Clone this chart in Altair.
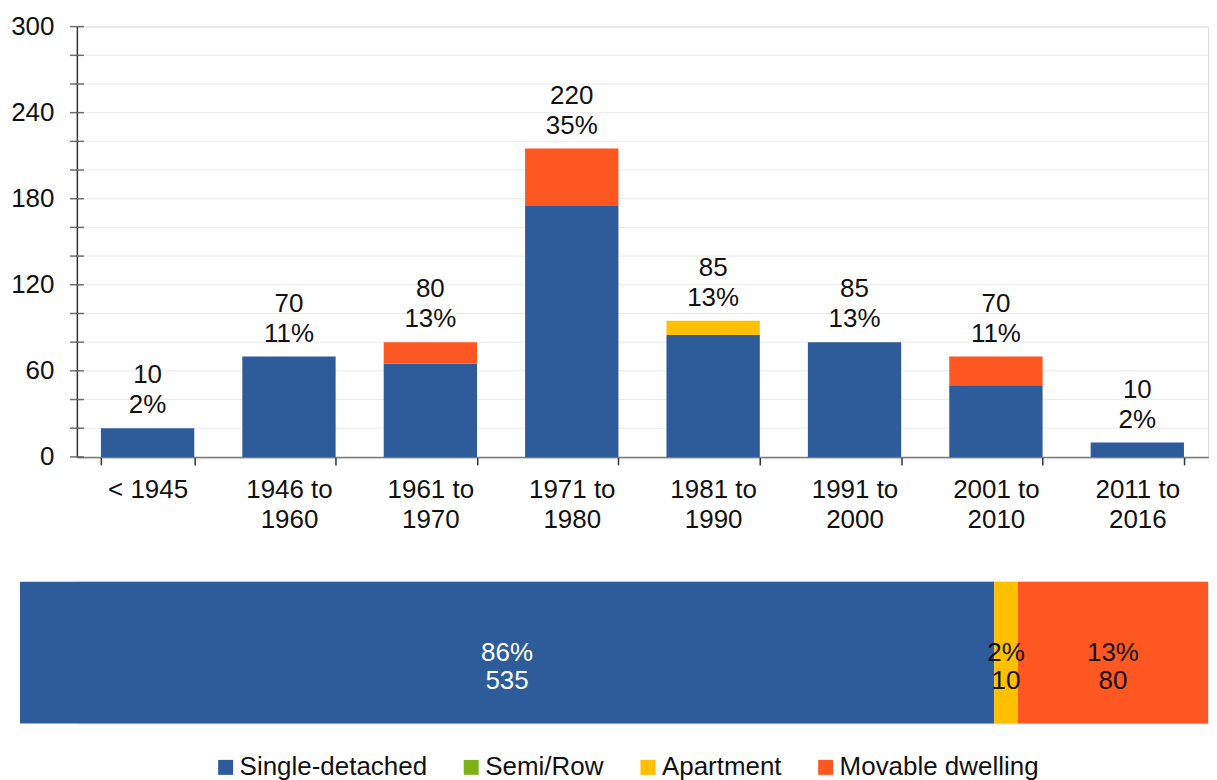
import altair as alt
import pandas as pd

# ---------------- data ----------------
periods = ["< 1945", "1946 to 1960", "1961 to 1970", "1971 to 1980",
           "1981 to 1990", "1991 to 2000", "2001 to 2010", "2011 to 2016"]
single_vals = [20, 70, 65, 175, 85, 80, 50, 10]
semi_vals = [0, 0, 0, 0, 0, 0, 0, 0]
apartment_vals = [0, 0, 0, 0, 10, 0, 0, 0]
movable_vals = [0, 0, 15, 40, 0, 0, 20, 0]
count_labels = ["10", "70", "80", "220", "85", "85", "70", "10"]
pct_labels = ["2%", "11%", "13%", "35%", "13%", "13%", "11%", "2%"]

types = ["Single-detached", "Semi/Row", "Apartment", "Movable dwelling"]
type_colors = ["#2E5C9B", "#7FB11B", "#FFC000", "#FF5722"]

total_types = ["Single-detached", "Apartment", "Movable dwelling"]
total_widths = [82, 2, 16]
total_pct_labels = ["86%", "2%", "13%"]
total_count_labels = ["535", "10", "80"]

y_tick_values = list(range(0, 301, 20))
y_label_values = [0, 60, 120, 180, 240, 300]

FONT = "Liberation Sans"
TXT = "#111111"
AX = "#333333"

# ---------------- tables ----------------
series = [single_vals, semi_vals, apartment_vals, movable_vals]
rows = []
for i, p in enumerate(periods):
    for j, t in enumerate(types):
        rows.append({"period": p, "type": t, "value": series[j][i], "order": j})
bars_df = pd.DataFrame(rows)

labels_df = pd.DataFrame({
    "period": periods,
    "total": [sum(s[i] for s in series) for i in range(len(periods))],
    "count": count_labels,
    "pct": pct_labels,
})

ticks_df = pd.DataFrame({"tick": y_tick_values})

total_df = pd.DataFrame({
    "row": ["All"] * len(total_types),
    "type": total_types,
    "width": total_widths,
    "pct": total_pct_labels,
    "count": total_count_labels,
    "order": list(range(len(total_types))),
})

color_scale = alt.Scale(domain=types, range=type_colors)

W = 1133
H = 431

x_enc = alt.X(
    "period:N", sort=periods, title=None,
    scale=alt.Scale(paddingInner=0.34, paddingOuter=0.17),
    axis=alt.Axis(
        labelExpr="split(replace(datum.label, ' to ', ' to|'), '|')",
        labelAngle=0, labelFontSize=26, labelFont=FONT, labelColor=TXT,
        labelLineHeight=30, labelPadding=12,
        tickBand="extent", tickSize=8, tickWidth=1.5, tickColor=AX,
        domainColor=AX, domainWidth=1.5, grid=False,
    ),
)

y_scale = alt.Scale(domain=[0, 300], nice=False)
y_axis = alt.Axis(
    values=y_label_values, labelOverlap=False,
    labelFontSize=26, labelFont=FONT, labelColor=TXT,
    labelPadding=23, ticks=False,
    domainColor=AX, domainWidth=1.5, grid=False,
)

grid = alt.Chart(ticks_df).mark_rule(color="#EBEBEB", strokeWidth=1).encode(
    y=alt.Y("tick:Q", scale=y_scale, axis=y_axis, title=None),
)

bars = alt.Chart(bars_df).mark_bar().encode(
    x=x_enc,
    y=alt.Y("value:Q", stack="zero", scale=y_scale, axis=y_axis, title=None),
    color=alt.Color("type:N", scale=color_scale, legend=None),
    order=alt.Order("order:Q", sort="ascending"),
)

texts = alt.Chart(labels_df).transform_calculate(
    lines="[datum.count, datum.pct]"
).mark_text(
    baseline="bottom", dy=-40, fontSize=26, lineHeight=30, font=FONT, color=TXT
).encode(
    x=x_enc,
    y=alt.Y("total:Q", scale=y_scale, axis=y_axis, title=None),
    text="lines:N",
)

yticks = alt.Chart(ticks_df).mark_tick(
    orient="horizontal", size=14, thickness=1.5, color=AX
).encode(
    y=alt.Y("tick:Q", scale=y_scale, axis=y_axis, title=None),
    x=alt.value(0),
)

top = alt.layer(grid, bars, yticks, texts).properties(width=W, height=H)

base = alt.Chart(total_df).transform_stack(
    stack="width", as_=["x0", "x1"], groupby=["row"],
    sort=[alt.SortField("order", order="ascending")],
).transform_calculate(
    mid="(datum.x0 + datum.x1) / 2",
    lines="[datum.pct, datum.count]",
)

x2_scale = alt.Scale(domain=[0, 100], range=[-57, W])
y2_enc = alt.Y("row:N", axis=None, title=None,
               scale=alt.Scale(paddingInner=0, paddingOuter=0))

bars2 = base.mark_bar().encode(
    x=alt.X("x0:Q", scale=x2_scale, axis=None, title=None),
    x2="x1:Q",
    y=y2_enc,
    color=alt.Color(
        "type:N", scale=color_scale, title=None,
        legend=alt.Legend(
            orient="none", legendX=136, legendY=173, direction="horizontal",
            columns=4, symbolType="square", symbolSize=225, symbolStrokeWidth=0,
            labelFontSize=26, labelFont=FONT, labelColor=TXT, labelOffset=1,
            columnPadding=31, labelLimit=400,
        ),
    ),
)

text2 = base.mark_text(
    baseline="middle", fontSize=26, lineHeight=28, font=FONT
).encode(
    x=alt.X("mid:Q", scale=x2_scale),
    y=y2_enc,
    text="lines:N",
    color=alt.condition("datum.type == 'Single-detached'",
                        alt.value("white"), alt.value(TXT)),
)

bottom = alt.layer(bars2, text2).properties(width=W, height=142)

chart = alt.vconcat(top, bottom, spacing=47).resolve_scale(
    color="independent"
).properties(
    padding={"left": 2, "top": 4, "right": 0, "bottom": 0}
).configure_view(strokeWidth=0).configure(font=FONT)

chart.save("out.html", embed_options={"renderer": "svg", "actions": False})
